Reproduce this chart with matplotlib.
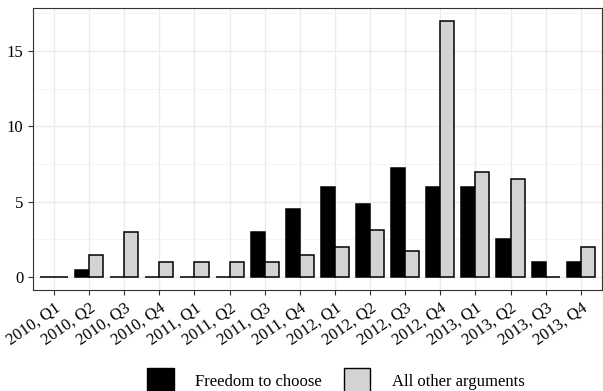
import matplotlib.pyplot as plt
import numpy as np
from matplotlib.patches import Patch

quarters = ["2010, Q1", "2010, Q2", "2010, Q3", "2010, Q4",
            "2011, Q1", "2011, Q2", "2011, Q3", "2011, Q4",
            "2012, Q1", "2012, Q2", "2012, Q3", "2012, Q4",
            "2013, Q1", "2013, Q2", "2013, Q3", "2013, Q4"]
freedom = [0, 0.5, 0, 0, 0, 0, 3, 4.5, 6, 4.85, 7.25, 6, 6, 2.5, 1, 1]
other = [0, 1.5, 3, 1, 1, 1, 1, 1.5, 2, 3.15, 1.75, 17, 7, 6.5, 0, 2]

plt.rcParams['font.family'] = ['Liberation Serif', 'DejaVu Serif']

fig = plt.figure(figsize=(6.03, 3.91), dpi=100)
ax = fig.add_axes([0.0547, 0.2583, 0.9433, 0.7212])

x = np.arange(len(quarters))
w = 0.4
ax.bar(x - w / 2, freedom, w, color="black", edgecolor="black", linewidth=1.1, zorder=3)
ax.bar(x + w / 2, other, w, color="#d3d3d3", edgecolor="black", linewidth=1.1, zorder=3)

ax.set_xlim(-0.6, len(quarters) - 0.4)
ax.set_ylim(-0.85, 17.85)
ax.set_yticks([0, 5, 10, 15])
ax.set_yticks([2.5, 7.5, 12.5, 17.5], minor=True)
ax.set_xticks(x)
ax.set_xticklabels(quarters, rotation=35, ha="right", rotation_mode="anchor", fontsize=12)
ax.tick_params(axis="y", labelsize=12)
ax.tick_params(which="major", color="#333333", length=3.5, width=0.8)
ax.tick_params(which="minor", length=0)
ax.grid(which="major", color="#ebebeb", linewidth=1.0, zorder=0)
ax.grid(which="minor", axis="y", color="#f2f2f2", linewidth=0.6, zorder=0)
for s in ax.spines.values():
    s.set_color("#333333")
    s.set_linewidth(0.8)

handles = [Patch(facecolor="black", edgecolor="black", label="Freedom to choose"),
           Patch(facecolor="#d3d3d3", edgecolor="black", label="All other arguments")]
fig.legend(handles=handles, loc="upper center", bbox_to_anchor=(0.557, 0.059), ncol=2,
           frameon=False, fontsize=12, handlelength=1.6, handleheight=2.0,
           columnspacing=1.3, handletextpad=1.3, borderpad=0, borderaxespad=0)

fig.savefig("out.png", dpi=100)
